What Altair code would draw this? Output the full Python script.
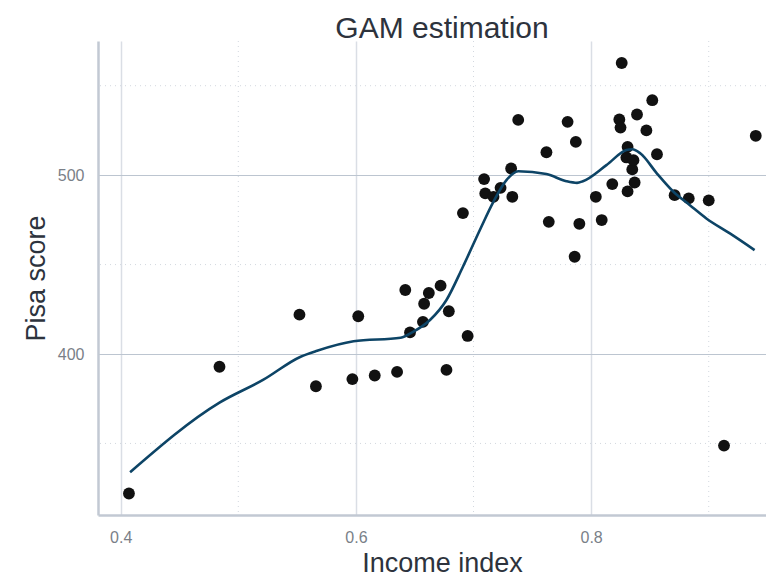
import altair as alt
import pandas as pd

# Scatter data (income index, Pisa score)
income = [0.407, 0.484, 0.552, 0.566, 0.597, 0.602, 0.616, 0.635, 0.642, 0.646,
          0.657, 0.658, 0.662, 0.672, 0.677, 0.679, 0.691, 0.695, 0.709, 0.710,
          0.717, 0.723, 0.732, 0.733, 0.738, 0.762, 0.764, 0.780, 0.786, 0.787,
          0.790, 0.804, 0.809, 0.818, 0.824, 0.825, 0.826, 0.830, 0.831, 0.831,
          0.835, 0.836, 0.837, 0.839, 0.847, 0.852, 0.856, 0.871, 0.883, 0.900,
          0.913, 0.940]
pisa = [322.0, 392.9, 422.0, 382.0, 386.0, 421.1, 388.0, 390.0, 435.8, 412.1,
        418.0, 428.1, 434.1, 438.2, 391.1, 423.9, 478.8, 410.1, 497.8, 489.8,
        487.9, 492.9, 503.7, 487.9, 530.9, 512.8, 473.9, 529.8, 454.4, 518.6,
        472.8, 487.9, 474.9, 495.0, 531.1, 526.6, 562.7, 509.9, 515.8, 490.9,
        503.2, 508.4, 495.9, 533.9, 525.0, 541.9, 511.7, 488.8, 487.0, 485.9,
        348.8, 522.0]

# GAM fitted curve
gam_x = [0.408, 0.484, 0.521, 0.553, 0.567, 0.598, 0.638, 0.649, 0.663, 0.677,
         0.691, 0.706, 0.717, 0.728, 0.738, 0.762, 0.779, 0.788, 0.793, 0.813,
         0.830, 0.835, 0.842, 0.856, 0.870, 0.884, 0.898, 0.918, 0.939]
gam_y = [333.9, 372.8, 385.5, 398.5, 401.8, 407.1, 409.1, 412.5, 419.0, 430.2,
         448.8, 470.2, 485.2, 497.2, 502.2, 500.6, 496.6, 495.7, 496.6, 505.6,
         514.0, 514.5, 512.1, 500.9, 490.7, 483.2, 475.8, 467.4, 458.1]

minor_x = [0.5, 0.7, 0.9]
minor_y = [350, 450, 550]
major_x = [0.4, 0.6, 0.8]
major_y = [400, 500]

pts = pd.DataFrame({"income": income, "pisa": pisa})
gam = pd.DataFrame({"income": gam_x, "pisa": gam_y})

XD = [0.3807, 0.9487]
YD = [310, 575]

xs = alt.Scale(domain=XD, nice=False, zero=False)
ys = alt.Scale(domain=YD, nice=False, zero=False)

FONT = "Liberation Sans"

vminor = alt.Chart(pd.DataFrame({"v": minor_x})).mark_rule(
    color="#d3d8df", strokeDash=[1, 4], strokeWidth=1
).encode(x=alt.X("v:Q", scale=xs))

hminor = alt.Chart(pd.DataFrame({"v": minor_y})).mark_rule(
    color="#d3d8df", strokeDash=[1, 4], strokeWidth=1
).encode(y=alt.Y("v:Q", scale=ys))

points = alt.Chart(pts).mark_circle(size=140, color="#111111", opacity=1).encode(
    x=alt.X("income:Q", scale=xs,
            axis=alt.Axis(values=major_x, title="Income index", format=".1f",
                          grid=True, gridColor="#dadee5", gridWidth=1.5,
                          ticks=False, domainColor="#c2c9d3", domainWidth=2.5,
                          labelColor="#7a7f88", labelFontSize=16, labelFont=FONT,
                          labelPadding=14,
                          titleFont=FONT, titleFontSize=27, titleFontWeight="normal",
                          titleColor="#2d333d", titleX=344, titleY=56,
                          titleBaseline="alphabetic", titleAlign="center")),
    y=alt.Y("pisa:Q", scale=ys,
            axis=alt.Axis(values=major_y, title="Pisa score",
                          grid=True, gridColor="#bcc5d0", gridWidth=1,
                          ticks=False, domainColor="#c2c9d3", domainWidth=2.5,
                          labelColor="#7a7f88", labelFontSize=16, labelFont=FONT,
                          labelPadding=14,
                          titleFont=FONT, titleFontSize=27, titleFontWeight="normal",
                          titleColor="#2d333d", titleX=-54, titleY=237,
                          titleAngle=270, titleBaseline="alphabetic",
                          titleAlign="center")),
)

line = alt.Chart(gam).mark_line(color="#0d4466", strokeWidth=2.6,
                                interpolate="monotone").encode(
    x=alt.X("income:Q", scale=xs),
    y=alt.Y("pisa:Q", scale=ys),
)

chart = alt.layer(vminor, hminor, points, line).properties(
    width=668,
    height=474,
    title=alt.TitleParams("GAM estimation", font=FONT, fontSize=30,
                          fontWeight="normal", color="#2d333d",
                          anchor="middle", dx=10, dy=7, offset=4),
    autosize=alt.AutoSizeParams(type="none"),
    padding={"left": 90, "top": 33, "right": 0, "bottom": 58},
).configure_view(stroke=None)

chart.save("out.html", embed_options={"renderer": "svg", "actions": False})
